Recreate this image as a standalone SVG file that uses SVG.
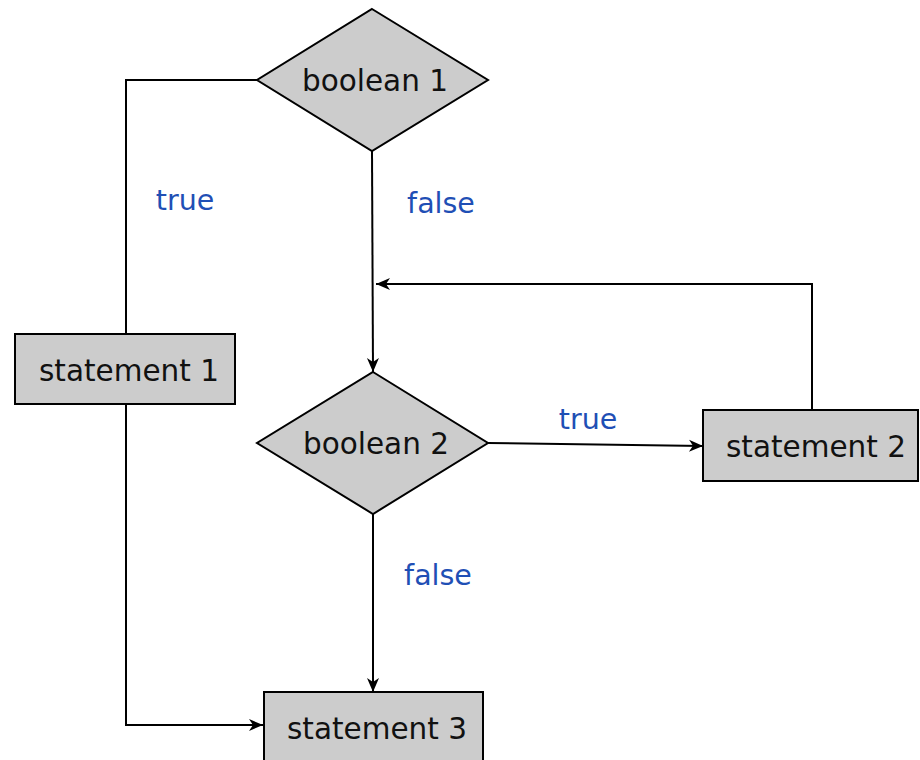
<svg xmlns="http://www.w3.org/2000/svg" width="920" height="760" viewBox="0 0 920 760">
<defs>
<marker id="arr" markerWidth="16" markerHeight="14" refX="15" refY="7" orient="auto" markerUnits="userSpaceOnUse">
<path d="M1,1 L15,7 L1,13 L5,7 z" fill="#000"/>
</marker>
<style>
.shape{fill:#cccccc;stroke:#000;stroke-width:2}
.txt{font-family:"DejaVu Sans","Liberation Sans",sans-serif;font-size:29.5px;fill:#111;text-anchor:middle}
.lbl{font-family:"DejaVu Sans","Liberation Sans",sans-serif;font-size:28.5px;fill:#1f4fb5;text-anchor:middle}
.ln{fill:none;stroke:#000;stroke-width:2}
</style>
</defs>
<rect width="920" height="760" fill="#fff"/>
<g id="connectors">
<polyline class="ln" points="257,80 126,80 126,334"/>
<line class="ln" x1="372" y1="151" x2="373" y2="372" marker-end="url(#arr)"/>
<polyline class="ln" points="812,410 812,284 376,284" marker-end="url(#arr)"/>
<line class="ln" x1="488" y1="443" x2="703" y2="446" marker-end="url(#arr)"/>
<line class="ln" x1="373" y1="514" x2="373" y2="692" marker-end="url(#arr)"/>
<polyline class="ln" points="126,404 126,725 263,725" marker-end="url(#arr)"/>
</g>
<g id="labels">
<text class="lbl" x="185" y="210">true</text>
<text class="lbl" x="441" y="213">false</text>
<text class="lbl" x="588" y="429">true</text>
<text class="lbl" x="438" y="585">false</text>
</g>
<g id="boolean1">
<polygon class="shape" points="372,9 488,80 372,151 257,80"/>
<text class="txt" x="375" y="91">boolean 1</text>
</g>
<g id="boolean2">
<polygon class="shape" points="373,372 488,443 373,514 257,443"/>
<text class="txt" x="376" y="454">boolean 2</text>
</g>
<g id="statement1">
<rect class="shape" x="15" y="334" width="220" height="70"/>
<text class="txt" x="129" y="381">statement 1</text>
</g>
<g id="statement2">
<rect class="shape" x="703" y="410" width="215" height="71"/>
<text class="txt" x="816" y="457">statement 2</text>
</g>
<g id="statement3">
<rect class="shape" x="264" y="692" width="219" height="72"/>
<text class="txt" x="377" y="739">statement 3</text>
</g>
</svg>
